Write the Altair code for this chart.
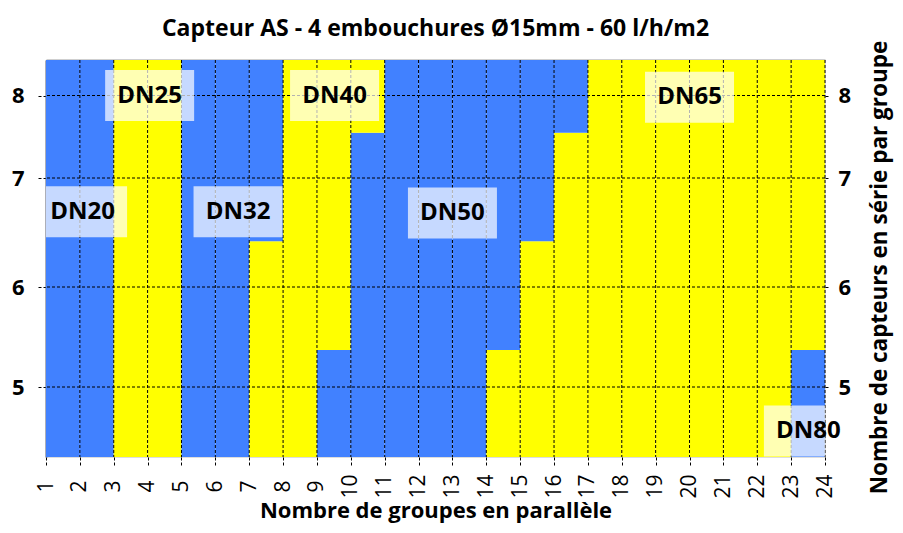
import altair as alt
import pandas as pd

# ---- data ----
group_left = list(range(1, 24))  # left edge of each column (groups in parallel)
lower_dn = ["DN20", "DN20", "DN25", "DN25", "DN32", "DN32", "DN40", "DN40",
            "DN50", "DN50", "DN50", "DN50", "DN50",
            "DN65", "DN65", "DN65", "DN65", "DN65", "DN65", "DN65", "DN65", "DN65",
            "DN80"]
upper_dn = ["DN20", "DN20", "DN25", "DN25", "DN32", "DN32", "DN32",
            "DN40", "DN40", "DN40",
            "DN50", "DN50", "DN50", "DN50", "DN50", "DN50",
            "DN65", "DN65", "DN65", "DN65", "DN65", "DN65", "DN65"]
boundary = [None, None, None, None, None, None, 6.42, None, 5.37, 7.55,
            None, None, None, 5.37, 6.42, 7.55, None, None, None, None, None, None, 5.37]

y_min, y_max = 4.3, 8.43
x_ticks = list(range(1, 25))
y_ticks = [5, 6, 7, 8]

dn_classes = ["DN20", "DN25", "DN32", "DN40", "DN50", "DN65", "DN80"]
dn_colors = ["#4181ff", "#ffff00", "#4181ff", "#ffff00", "#4181ff", "#ffff00", "#4181ff"]

label_text = ["DN20", "DN25", "DN32", "DN40", "DN50", "DN65", "DN80"]
label_x = [2.08, 4.06, 6.67, 9.52, 13.0, 20.0, 23.51]
label_y = [6.69, 8.0, 6.69, 8.0, 6.68, 7.98, 4.56]

title = "Capteur AS - 4 embouchures Ø15mm - 60 l/h/m2"
x_title = "Nombre de groupes en parallèle"
y_title = "Nombre de capteurs en série par groupe"

# ---- build tables ----
rows = []
for g, lo, up, b in zip(group_left, lower_dn, upper_dn, boundary):
    if b is None:
        rows.append(dict(x0=g, x1=g + 1, y0=y_min, y1=y_max, dn=lo))
    else:
        rows.append(dict(x0=g, x1=g + 1, y0=y_min, y1=b, dn=lo))
        rows.append(dict(x0=g, x1=g + 1, y0=b, y1=y_max, dn=up))
rect_df = pd.DataFrame(rows)
xgrid_df = pd.DataFrame({"x": x_ticks[1:]})
ygrid_df = pd.DataFrame({"y": y_ticks})
lab_df = pd.DataFrame({"t": label_text, "x": label_x, "y": label_y})

FONT = "Open Sans"
PLOT_H = 397
xscale = alt.Scale(domain=[1, 24], nice=False, zero=False)
yscale = alt.Scale(domain=[y_min, 5, 6, 7, 8, y_max],
                   range=[PLOT_H, 327, 227, 118, 35.5, 0], nice=False, zero=False)

x_axis_bottom = alt.Axis(values=x_ticks, orient="bottom", labelAngle=270, labelAlign="center",
                         labelBaseline="middle", labelPadding=21, labelFontSize=21,
                         labelFont=FONT, labelColor="black", tickSize=8, tickDash=[3, 2],
                         tickColor="black", domain=False, grid=False, title=x_title,
                         titleFont=FONT, titleFontSize=22, titleFontWeight="bold",
                         titleColor="black", titlePadding=2, labelOverlap=False,
                         labelFlush=False)
y_axis_left = alt.Axis(values=y_ticks, orient="left", labelFontSize=22, labelFontWeight="bold",
                       labelFont=FONT, labelColor="black", labelPadding=14, tickSize=8,
                       tickDash=[3, 2], tickColor="black", domain=True, domainColor="#5a5f70",
                       domainWidth=2, grid=False, title=None)
x_axis_top = alt.Axis(orient="top", labels=False, ticks=False, domain=True,
                      domainColor="#a0a0a0", domainWidth=2, grid=False, title=None)
y_axis_right = alt.Axis(values=y_ticks, orient="right", labelFontSize=22, labelFontWeight="bold",
                        labelFont=FONT, labelColor="black", labelPadding=8, tickSize=5,
                        tickDash=[3, 2], tickColor="black", domain=False, grid=False,
                        title=y_title, titleFont=FONT, titleFontSize=22.5, titleFontWeight="bold",
                        titleColor="black", titleAngle=270, titleBaseline="top",
                        titlePadding=18, titleY=207)

areas = alt.Chart(rect_df).mark_rect().encode(
    x=alt.X("x0:Q", scale=xscale, axis=x_axis_bottom),
    x2="x1:Q",
    y=alt.Y("y0:Q", scale=yscale, axis=y_axis_left),
    y2="y1:Q",
    color=alt.Color("dn:N", scale=alt.Scale(domain=dn_classes, range=dn_colors), legend=None),
)

vgrid = alt.Chart(xgrid_df).mark_rule(color="black", strokeDash=[3, 2], strokeWidth=1).encode(
    x=alt.X("x:Q", scale=xscale, axis=x_axis_top)
)
hgrid = alt.Chart(ygrid_df).mark_rule(color="black", strokeDash=[3, 2], strokeWidth=1).encode(
    y=alt.Y("y:Q", scale=yscale, axis=y_axis_right)
)

boxes = alt.Chart(lab_df).mark_point(
    shape="M-1,-0.573L1,-0.573L1,0.573L-1,0.573Z", size=7921, filled=True,
    color="white", opacity=0.7, clip=True, strokeWidth=0
).encode(
    x=alt.X("x:Q", scale=xscale, axis=None),
    y=alt.Y("y:Q", scale=yscale, axis=None),
)
texts = alt.Chart(lab_df).mark_text(
    font=FONT, fontSize=24, fontWeight="bold", color="black", align="center", baseline="middle"
).encode(
    x=alt.X("x:Q", scale=xscale, axis=None),
    y=alt.Y("y:Q", scale=yscale, axis=None),
    text="t:N",
)

chart = alt.layer(areas, vgrid, hgrid, boxes, texts).resolve_axis(
    x="independent", y="independent"
).properties(
    width=779,
    height=PLOT_H,
    autosize=alt.AutoSizeParams(type="none"),
    padding={"left": 38, "top": 52, "right": 70, "bottom": 68},
    title=alt.Title(title, font=FONT, fontSize=23, fontWeight="bold", color="black",
                    anchor="middle", frame="group", offset=0, dy=1),
).configure_view(stroke=None).configure(background="white")

chart.save("out.html", embed_options={"renderer": "svg", "actions": False})
